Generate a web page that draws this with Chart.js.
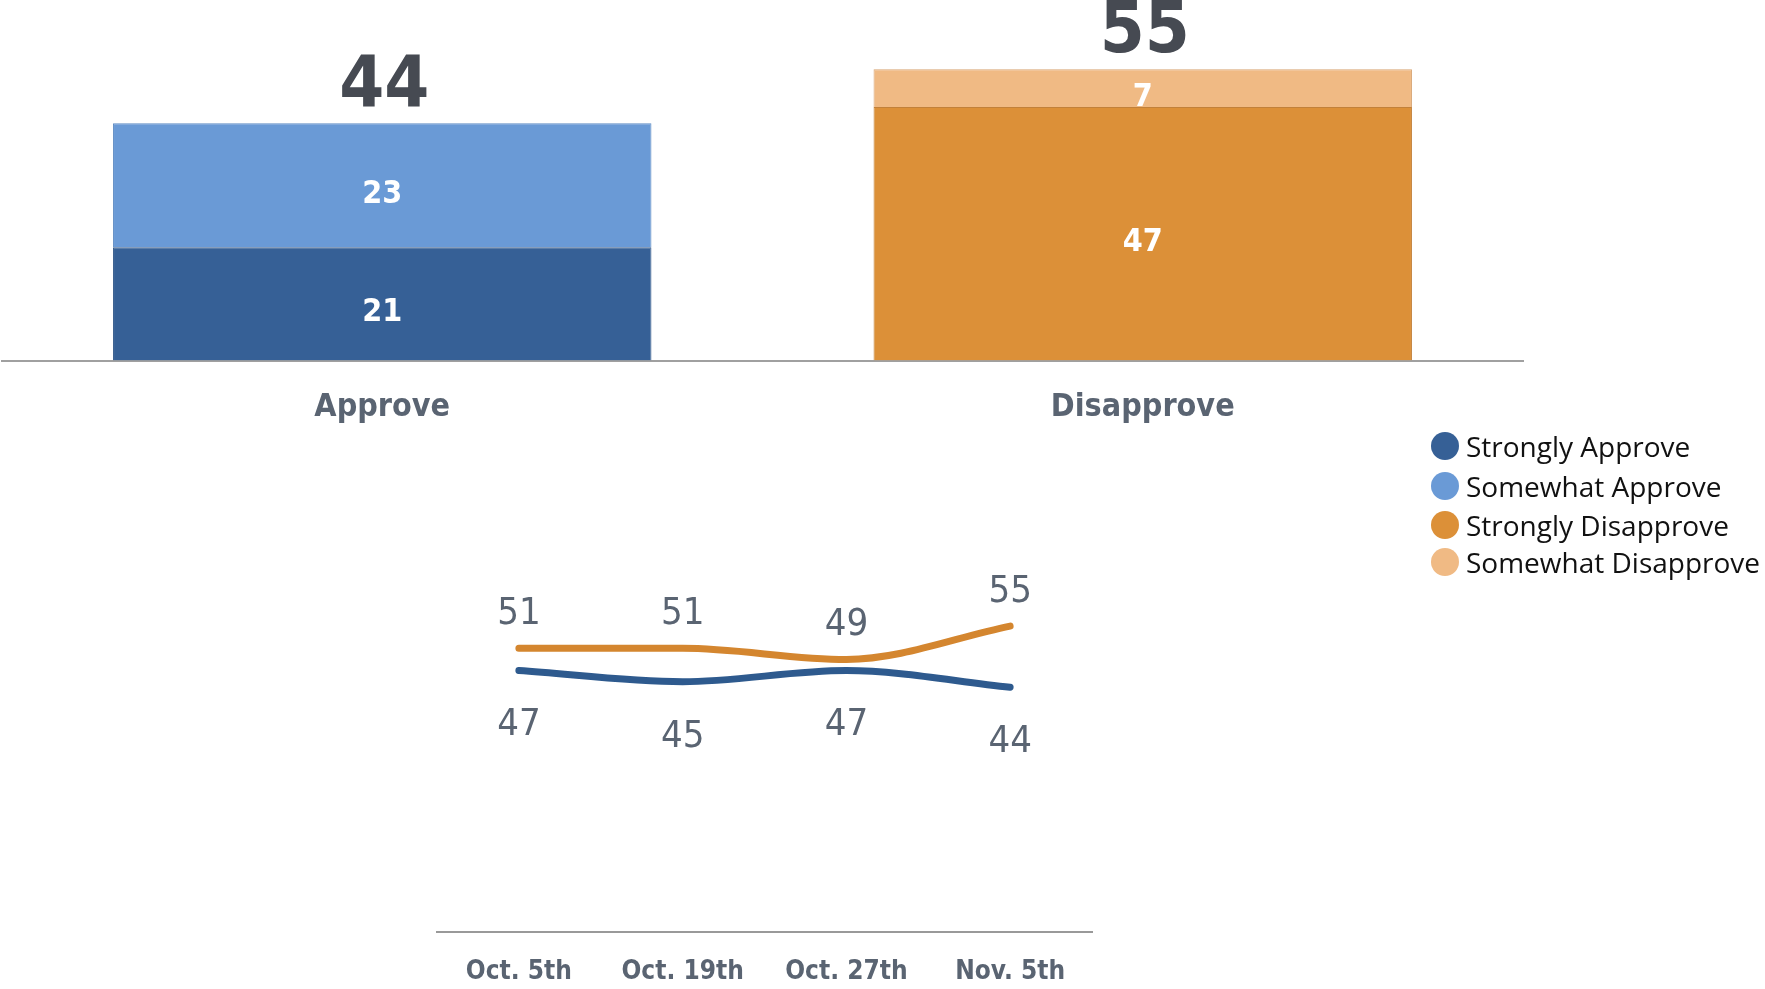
<!DOCTYPE html>
<html>
<head>
<meta charset="utf-8">
<script src="https://cdn.jsdelivr.net/npm/chart.js@4.4.1/dist/chart.umd.min.js"></script>
<style>
  body { margin: 0; background: #ffffff; width: 1765px; height: 989px; overflow: hidden; position: relative; }
  canvas { position: absolute; }
  #barChart { left: 0; top: 0; }
  #lineChart { left: 380px; top: 360px; }
  .legend { position: absolute; left: 1431px; top: 426px; font-family: "Open Sans", sans-serif; font-size: 28px; color: #111111; }
  .legend-item { height: 40px; display: flex; align-items: center; white-space: nowrap; }
  .legend-item:nth-child(n+3) { height: 37px; }
  .legend-dot { width: 28px; height: 28px; border-radius: 50%; margin-right: 7px; flex: none; }
</style>
</head>
<body>
<canvas id="barChart" width="1765" height="469"></canvas>
<canvas id="lineChart" width="760" height="657"></canvas>
<div class="legend" id="legend"></div>

<script>
// bar chart data
const barCategories = ["Approve", "Disapprove"];
const stronglyApprove = [21, null];
const somewhatApprove = [23, null];
const stronglyDisapprove = [null, 47];
const somewhatDisapprove = [null, 7];
const barTotals = [44, 55];

// trend data
const trendDates = ["Oct. 5th", "Oct. 19th", "Oct. 27th", "Nov. 5th"];
const totalDisapprove = [51, 51, 49, 55];
const totalApprove = [47, 45, 47, 44];

const condensed = "'DejaVu Sans Condensed', 'DejaVu Sans', sans-serif";
const greyText = "#5a6472";

// labels inside bars + totals on top
const barLabels = {
  id: "barLabels",
  afterDatasetsDraw(chart) {
    const ctx = chart.ctx;
    ctx.save();
    ctx.textAlign = "center";
    ctx.textBaseline = "middle";
    ctx.fillStyle = "#ffffff";
    ctx.font = "bold 32px " + condensed;
    const tops = [];
    chart.data.datasets.forEach((ds, i) => {
      const meta = chart.getDatasetMeta(i);
      meta.data.forEach((bar, j) => {
        if (ds.data[j] == null) return;
        const p = bar.getProps(["x", "y", "base"], true);
        ctx.fillText(ds.data[j], p.x, (p.y + p.base) / 2 + 9);
        if (tops[j] === undefined || p.y < tops[j]) tops[j] = p.y;
      });
    });
    ctx.fillStyle = "#464a52";
    ctx.font = "bold 72px " + condensed;
    barTotals.forEach((t, j) => {
      const x = chart.scales.x.getPixelForValue(j);
      ctx.fillText(t, x + 2, tops[j] - 36);
    });
    ctx.restore();
  },
};

const barChart = new Chart(document.getElementById("barChart"), {
  type: "bar",
  data: {
    labels: barCategories,
    datasets: [
      { label: "Strongly Approve", data: stronglyApprove, backgroundColor: "#366096", borderColor: "#33598a", borderWidth: 1 },
      { label: "Somewhat Approve", data: somewhatApprove, backgroundColor: "#6a9ad6", borderColor: "#5f8cc4", borderWidth: 1 },
      { label: "Strongly Disapprove", data: stronglyDisapprove, backgroundColor: "#dc9038", borderColor: "#c2813a", borderWidth: 1 },
      { label: "Somewhat Disapprove", data: somewhatDisapprove, backgroundColor: "#f0ba84", borderColor: "#d8a574", borderWidth: 1 },
    ],
  },
  options: {
    responsive: false,
    animation: false,
    layout: { padding: { left: 2, right: 242, top: 10, bottom: 14 } },
    plugins: { legend: { display: false }, tooltip: { enabled: false } },
    datasets: { bar: { categoryPercentage: 1, barPercentage: 0.708, skipNull: true } },
    scales: {
      x: {
        stacked: true,
        grid: { display: false, drawTicks: false },
        border: { display: true, color: "#a0a0a0", width: 2 },
        ticks: { color: greyText, font: { family: condensed, size: 32, weight: "bold" }, padding: 28 },
      },
      y: {
        stacked: true,
        display: false,
        min: 0,
        max: 65,
      },
    },
  },
  plugins: [barLabels],
});

// legend from the bar datasets
const legendBox = document.getElementById("legend");
barChart.data.datasets.forEach((ds) => {
  const item = document.createElement("div");
  item.className = "legend-item";
  const dot = document.createElement("span");
  dot.className = "legend-dot";
  dot.style.background = ds.backgroundColor;
  const txt = document.createElement("span");
  txt.textContent = ds.label;
  item.append(dot, txt);
  legendBox.append(item);
});

// value labels for the trend lines
const lineLabels = {
  id: "lineLabels",
  afterDatasetsDraw(chart) {
    const ctx = chart.ctx;
    ctx.save();
    ctx.textAlign = "center";
    ctx.textBaseline = "middle";
    ctx.fillStyle = greyText;
    ctx.font = "38px " + condensed;
    chart.data.datasets.forEach((ds, i) => {
      const meta = chart.getDatasetMeta(i);
      meta.data.forEach((pt, j) => {
        ctx.fillText(ds.data[j], pt.x, pt.y + ds.labelOffset);
      });
    });
    ctx.restore();
  },
};

new Chart(document.getElementById("lineChart"), {
  type: "line",
  data: {
    labels: trendDates,
    datasets: [
      { label: "Disapprove", data: totalDisapprove, borderColor: "#d4862f", labelOffset: -34 },
      { label: "Approve", data: totalApprove, borderColor: "#2e5a8e", labelOffset: 55 },
    ],
  },
  options: {
    responsive: false,
    animation: false,
    layout: { padding: { left: 57, right: 48, top: 16, bottom: 4 } },
    plugins: { legend: { display: false }, tooltip: { enabled: false } },
    elements: {
      line: { borderWidth: 7, tension: 0.4, borderCapStyle: "round", cubicInterpolationMode: "monotone" },
      point: { radius: 0 },
    },
    scales: {
      x: {
        offset: true,
        grid: { display: false, drawTicks: false },
        border: { display: true, color: "#999999", width: 2 },
        ticks: { color: greyText, font: { family: condensed, size: 26, weight: "bold" }, padding: 25 },
      },
      y: { display: false, min: 0, max: 100 },
    },
  },
  plugins: [lineLabels],
});
</script>
</body>
</html>
